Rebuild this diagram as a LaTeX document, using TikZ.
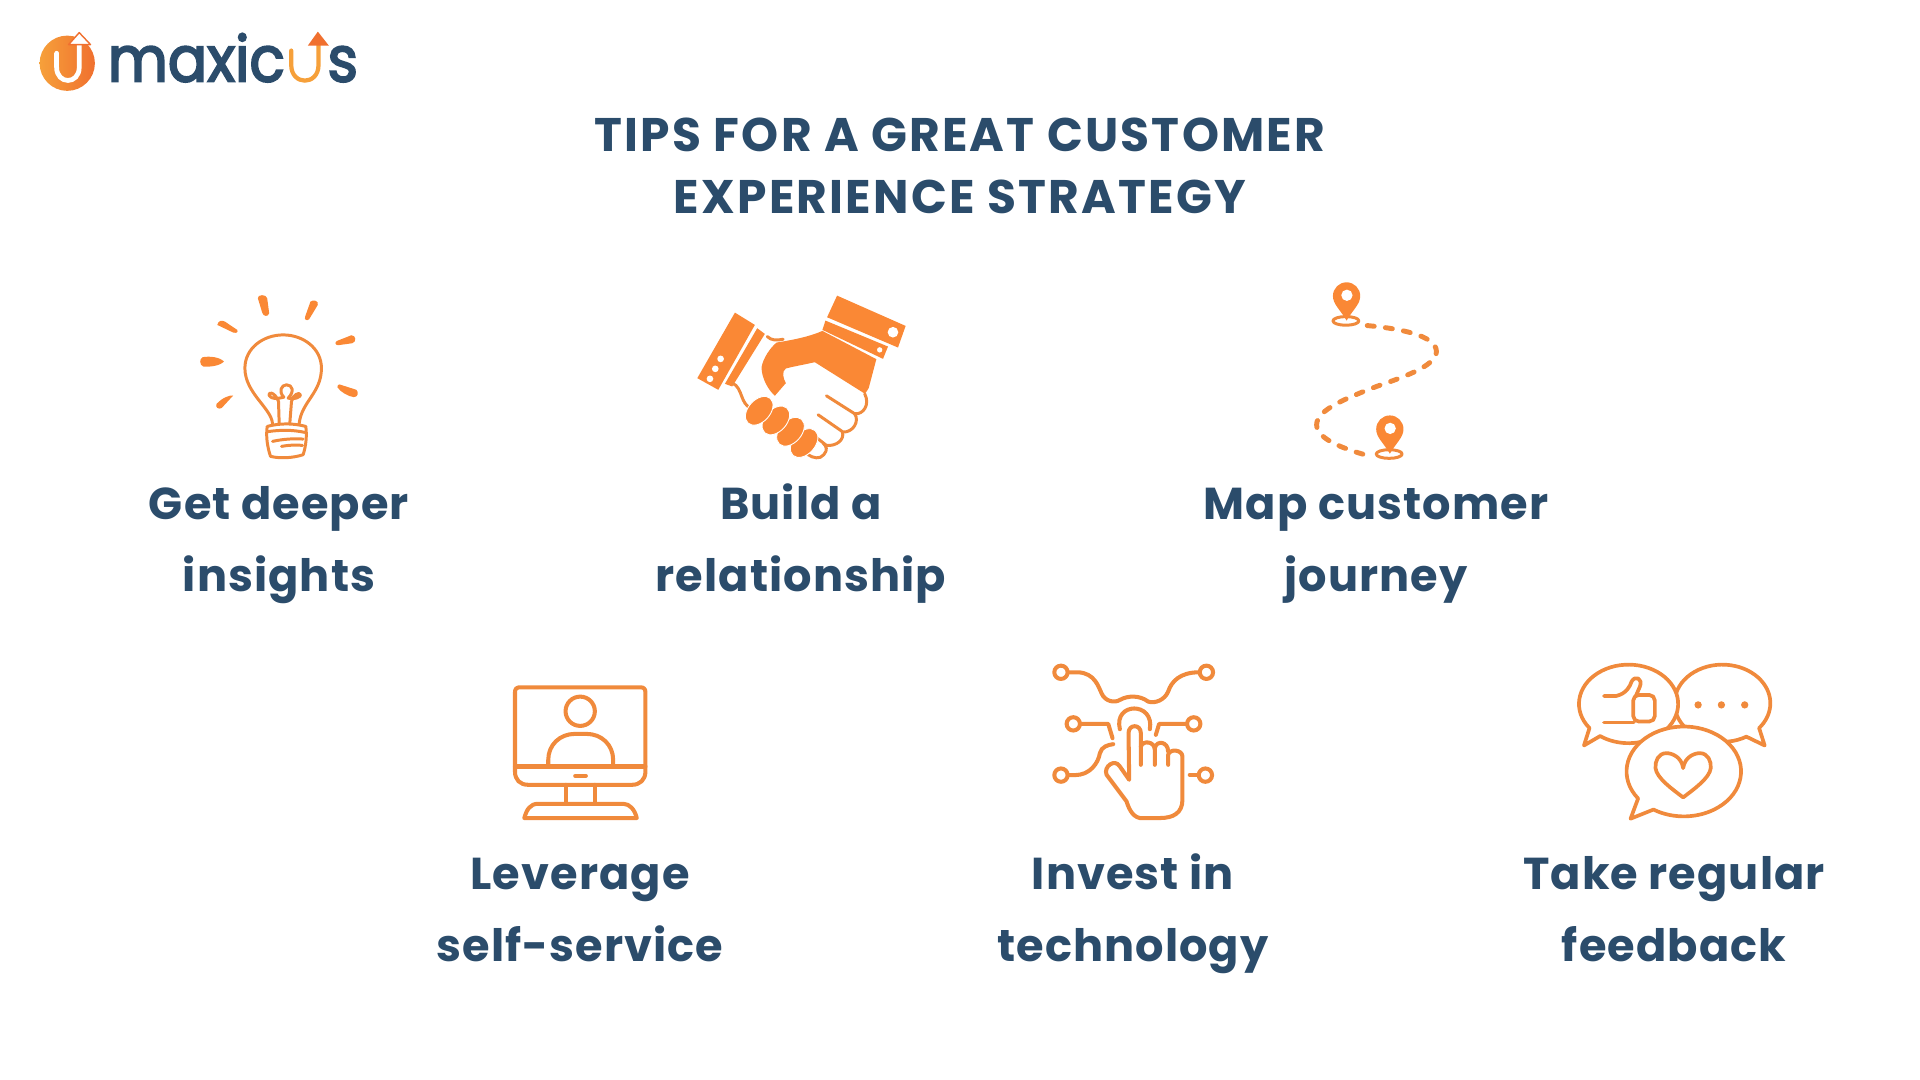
\documentclass[tikz,border=0pt]{standalone}
\usepackage{fontspec}
\setmainfont{Poppins}
\newfontfamily\labelfont[LetterSpace=2.4]{Poppins}
\newfontfamily\titlefont[LetterSpace=4.8]{Poppins}
\newfontfamily\logofont[FakeStretch=0.92,FakeBold=3]{Poppins}
\usepackage{xcolor}
\usetikzlibrary{positioning}
\definecolor{navy}{HTML}{2B4C6B}
\definecolor{tiporange}{HTML}{F08A3C}
\definecolor{fillorange}{HTML}{FA8835}
\definecolor{logoyellow}{HTML}{F6A03A}
\definecolor{logored}{HTML}{F0702F}
\tikzset{
	zoomed/.style={x=0.0033333cm, y=-0.0033333cm},
	thinline/.style={draw=tiporange, line width=0.85pt, line cap=round, line join=round},
	boldline/.style={draw=tiporange, line width=1.15pt, line cap=round, line join=round},
	bubbleline/.style={draw=tiporange, line width=1.05pt, line cap=round, line join=round},
	solid orange/.style={fill=fillorange, draw=none},
	logotext/.style={font=\logofont\fontsize{18}{18}\selectfont, text=navy, anchor=base west, inner sep=0pt},
	tiplabel/.style={font=\labelfont\bfseries\fontsize{12.7}{20.5}\selectfont, text=navy, align=center, inner sep=0pt, anchor=base},
	titlelabel/.style={font=\titlefont\bfseries\fontsize{13.4}{17.6}\selectfont, text=navy, align=center, inner sep=0pt}
}

\begin{document}
\begin{tikzpicture}[x=0.01cm, y=-0.01cm]
		\useasboundingbox (0,0) rectangle (1920,1080);
		
		\node[titlelabel] (title) at (960,166) {TIPS FOR A GREAT CUSTOMER\\EXPERIENCE STRATEGY};
		
		\node[tiplabel] (insights) at (279,592) {Get deeper\\insights};
		\node[tiplabel] (relationship) at (801,592) {Build a\\relationship};
		\node[tiplabel] (journey) at (1376,592) {Map customer\\journey};
		\node[tiplabel] (service) at (580,962) {Leverage\\self-service};
		\node[tiplabel] (technology) at (1133,962) {Invest in\\technology};
		\node[tiplabel] (feedback) at (1674,962) {Take regular\\feedback};
		
		% logo
		\begin{scope}[shift={(20,10)}, zoomed]
			\shade[left color=logoyellow, right color=logored] (142,160) circle [radius=83];
			\draw[white, line width=1.35pt, line cap=round] (110,130) -- (110,172) .. controls (110,225) and (178,225) .. (178,172) -- (178,100);
			\draw[fill=white, draw=logored, line width=0.4pt, line join=round] (178,68) -- (212,104) -- (146,104) -- cycle;
			\node[logotext] (wordmark) at (262,215) {maxic};
			\node[logotext] (wordend) at (922,215) {s};
			\draw[draw=logoyellow, line width=1.2pt, line cap=round] (815,122) -- (815,165) .. controls (815,228) and (897,228) .. (897,165) -- (897,100);
			\fill[logored] (895,65) -- (928,107) -- (865,107) -- cycle;
		\end{scope}
		
		% bulb
		\begin{scope}[shift={(180,280)}, zoomed]
			\fill[solid orange] (234,55) .. controls (232,43) and (260,42) .. (262,55) -- (268,100) .. controls (265,112) and (250,110) .. (247,98) -- cycle;
			\fill[solid orange] (392,65) .. controls (400,58) and (418,62) .. (414,75) -- (388,118) .. controls (380,125) and (373,118) .. (376,110) -- cycle;
			\fill[solid orange] (112,135) .. controls (115,122) and (125,120) .. (135,125) -- (172,150) .. controls (175,158) and (170,160) .. (160,158) -- cycle;
			\fill[solid orange] (515,166) .. controls (528,166) and (532,185) .. (518,190) -- (475,196) .. controls (465,195) and (465,187) .. (472,183) -- cycle;
			\fill[solid orange] (68,232) .. controls (90,228) and (120,232) .. (132,245) .. controls (120,258) and (90,262) .. (70,260) .. controls (58,256) and (58,236) .. (68,232) -- cycle;
			\fill[solid orange] (480,314) -- (530,330) .. controls (538,338) and (535,352) .. (522,352) .. controls (505,350) and (480,335) .. (473,322) .. controls (472,316) and (476,314) .. (480,314) -- cycle;
			\fill[solid orange] (160,347) .. controls (150,345) and (125,355) .. (110,372) .. controls (105,382) and (115,390) .. (125,385) -- cycle;
			\draw[thinline] (278,432) .. controls (275,385) and (195,340) .. (195,265) .. controls (195,205) and (250,165) .. (310,165) .. controls (370,165) and (425,205) .. (425,265) .. controls (425,340) and (365,365) .. (358,432);
			\draw[thinline] (262,440) .. controls (300,430) and (340,430) .. (378,440) .. controls (382,470) and (378,500) .. (370,525) .. controls (340,535) and (300,537) .. (272,530) .. controls (262,500) and (258,470) .. (262,440);
			\draw[thinline] (262,456) .. controls (300,450) and (340,450) .. (375,458);
			\draw[thinline] (278,485) .. controls (310,478) and (340,476) .. (370,478);
			\draw[thinline] (305,500) .. controls (325,496) and (350,495) .. (368,497);
			\draw[thinline] (298,430) -- (296,365) .. controls (285,335) and (262,335) .. (268,347) .. controls (275,358) and (290,358) .. (312,352) .. controls (295,335) and (305,315) .. (320,315) .. controls (338,315) and (345,335) .. (325,355) .. controls (340,362) and (365,350) .. (362,345) .. controls (358,335) and (340,345) .. (335,365) -- (330,430);
		\end{scope}
		
		% handshake
		\begin{scope}[shift={(680,280)}, zoomed]
			\draw[thinline] (262,170) .. controls (275,182) and (290,182) .. (310,178);
			\fill[solid orange] (290,188) .. controls (340,180) and (390,170) .. (428,153) -- (590,238) -- (567,325) -- (556,342) -- (405,247) .. controls (370,255) and (340,260) .. (318,266) .. controls (305,275) and (310,295) .. (318,310) -- (285,348) .. controls (265,330) and (245,295) .. (245,262) .. controls (250,235) and (270,205) .. (290,188) -- cycle;
			\fill[solid orange] (472,47) -- (678,138) -- (655,203) -- (442,112) -- cycle;
			\fill[solid orange] (437,122) -- (625,200) -- (610,237) -- (428,150) -- cycle;
			\fill[white] (640,157) circle [radius=16] (600,210) circle [radius=8];
			\fill[solid orange] (165,98) -- (225,135) -- (115,330) -- (52,295) -- cycle;
			\fill[solid orange] (232,145) -- (255,162) -- (157,320) -- (135,312) -- cycle;
			\fill[white] (122,237) circle [radius=10] (106,267) circle [radius=10] (90,297) circle [radius=10];
			\draw[thinline] (158,310) .. controls (190,325) and (180,375) .. (215,385);
			\draw[thinline] (440,348) -- (525,402) .. controls (550,405) and (572,375) .. (555,342);
			\draw[thinline] (415,405) -- (490,457) .. controls (520,458) and (540,425) .. (525,402);
			\draw[thinline] (395,462) -- (440,497) .. controls (470,500) and (495,480) .. (488,457);
			\draw[thinline] (385,525) .. controls (400,535) and (420,540) .. (432,525) .. controls (445,510) and (440,500) .. (430,490);
			\foreach \fingerx/\fingery in {373/490, 332/456, 288/422, 238/393}
				\fill[solid orange, draw=white, line width=0.25pt, rotate around={-42:(\fingerx,\fingery)}] (\fingerx,\fingery) ellipse [x radius=33, y radius=50];
		\end{scope}
		
		% map
		\begin{scope}[shift={(1290,270)}, zoomed]
			\foreach \pinx/\piny in {170/78, 300/478} {
				\draw[thinline] (\pinx,\piny) ++(-2,75) ellipse [x radius=39, y radius=13];
				\fill[solid orange] (\pinx,\piny+74) .. controls (\pinx-20,\piny+40) and (\pinx-41,\piny+25) .. (\pinx-41,\piny) arc [start angle=180, end angle=360, x radius=41, y radius=41] .. controls (\pinx+41,\piny+25) and (\pinx+20,\piny+40) .. (\pinx,\piny+74) -- cycle;
				\fill[white] (\pinx+1,\piny-2) circle [radius=17];
			}
			\draw[draw=tiporange, line width=1.4pt, line cap=round, dash pattern=on 2pt off 3.2pt] (232,167) .. controls (320,175) and (440,195) .. (440,245) .. controls (440,290) and (330,325) .. (260,350) .. controls (170,385) and (80,420) .. (80,465) .. controls (80,510) and (170,540) .. (235,558);
		\end{scope}
		
		% monitor
		\begin{scope}[shift={(500,670)}, zoomed]
			\draw[boldline] (60,52) -- (422,52) .. controls (432,52) and (437,57) .. (437,67) -- (437,305) .. controls (437,330) and (420,345) .. (397,345) -- (85,345) .. controls (60,345) and (45,330) .. (45,305) -- (45,67) .. controls (45,57) and (50,52) .. (60,52) -- cycle;
			\draw[boldline] (45,290) -- (437,290);
			\draw[boldline] (198,345) -- (198,402);
			\draw[boldline] (285,345) -- (285,402);
			\draw[boldline] (73,445) .. controls (80,420) and (90,402) .. (115,402) -- (370,402) .. controls (390,402) and (405,420) .. (411,445) -- cycle;
			\draw[boldline] (226,318) -- (258,318);
			\draw[boldline] (241,124) circle [radius=44];
			\draw[boldline] (145,290) -- (145,270) .. controls (145,225) and (180,192) .. (225,192) -- (260,192) .. controls (305,192) and (340,225) .. (340,270) -- (340,290);
		\end{scope}
		
		% technology
		\begin{scope}[shift={(1040,650)}, zoomed]
			\foreach \padx/\pady in {63/67, 500/67, 100/222, 462/222, 63/376, 497/376}
				\draw[boldline] (\padx,\pady) circle [radius=20];
			\draw[boldline] (85,67) -- (115,67) .. controls (165,70) and (175,110) .. (185,130) .. controls (195,155) and (225,160) .. (240,150) .. controls (265,136) and (300,136) .. (325,155) .. controls (345,162) and (375,150) .. (385,125) .. controls (395,95) and (420,67) .. (478,67);
			\draw[boldline] (122,222) -- (205,222) -- (218,265);
			\draw[boldline] (440,222) -- (358,222) -- (348,255);
			\draw[boldline] (85,376) -- (105,376) .. controls (150,376) and (175,340) .. (180,310) .. controls (185,290) and (205,285) .. (220,283);
			\draw[boldline] (450,375) -- (475,375);
			\draw[boldline] (240,238) .. controls (220,155) and (345,155) .. (330,238);
			\draw[boldline] (303,345) -- (303,250) .. controls (303,222) and (266,222) .. (266,250) -- (268,390) -- (240,350) .. controls (225,325) and (190,350) .. (200,375) -- (260,455) .. controls (265,470) and (275,500) .. (300,505) -- (360,505) .. controls (400,505) and (428,490) .. (428,450) -- (428,320) .. controls (428,300) and (390,295) .. (385,315) -- (385,345);
			\draw[boldline] (303,290) .. controls (310,270) and (345,275) .. (345,300) -- (345,345);
			\draw[boldline] (345,295) .. controls (350,270) and (385,275) .. (385,305);
		\end{scope}
		
		% feedback
		\begin{scope}[shift={(1560,650)}, zoomed]
			\draw[bubbleline, fill=white] (488,160) ++(60:144 and 116) arc [start angle=60, end angle=400, x radius=144, y radius=116] -- (615,287) -- cycle;
			\draw[bubbleline, fill=white] (206,162) ++(142:149 and 118) arc [start angle=142, end angle=485, x radius=149, y radius=118] -- (72,287) -- cycle;
			\draw[bubbleline, fill=white] (372,365) ++(143:172 and 135) arc [start angle=143, end angle=482, x radius=172, y radius=135] -- (212,507) -- cycle;
			\draw[bubbleline] (370,355) .. controls (365,320) and (335,310) .. (320,310) .. controls (295,310) and (285,335) .. (287,355) .. controls (290,385) and (340,420) .. (370,443) .. controls (400,420) and (450,385) .. (453,355) .. controls (455,335) and (445,310) .. (420,310) .. controls (405,310) and (375,320) .. (370,355);
			\fill[tiporange] (415,165) circle [radius=11] (485,165) circle [radius=11] (555,165) circle [radius=11];
			\draw[bubbleline, rounded corners=1.6pt] (220,135) rectangle (285,215);
			\draw[bubbleline] (132,138) -- (170,138) .. controls (200,130) and (210,110) .. (215,95) .. controls (225,75) and (250,85) .. (240,110) -- (228,138);
			\draw[bubbleline] (132,218) -- (222,218);
		\end{scope}
	\end{tikzpicture}
\end{document}
